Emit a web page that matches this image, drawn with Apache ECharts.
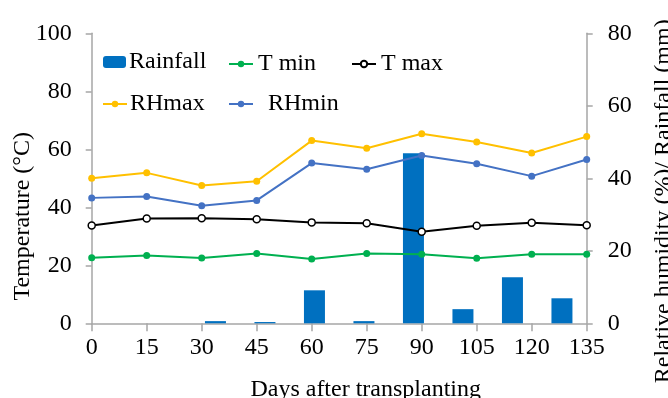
<!DOCTYPE html>
<html>
<head>
<meta charset="utf-8">
<script src="https://cdn.jsdelivr.net/npm/echarts@6/dist/echarts.min.js"></script>
<style>
  html, body { margin: 0; padding: 0; background: #fff; }
  #chart { width: 668px; height: 398px; }
</style>
</head>
<body>
<div id="chart"></div>
<script>
// Days after transplanting (line points sit on these ticks)
const days = ['0', '15', '30', '45', '60', '75', '90', '105', '120', '135'];
// Rainfall periods (bars are drawn between the day ticks)
const rainPeriods = ['P1', 'P2', 'P3', 'P4', 'P5', 'P6', 'P7', 'P8', 'P9', 'P10'];

// Temperature (°C), left axis
const tMin = [22.6, 23.4, 22.5, 24.1, 22.2, 24.1, 23.8, 22.4, 23.8, 23.8];
const tMax = [33.7, 36.1, 36.2, 35.9, 34.8, 34.5, 31.6, 33.6, 34.7, 33.8];

// Relative humidity (%) and rainfall (mm), right axis
const rhMax = [40.0, 41.5, 38.0, 39.2, 50.4, 48.3, 52.3, 50.0, 47.0, 51.5];
const rhMin = [34.6, 35.0, 32.4, 33.9, 44.2, 42.5, 46.3, 44.0, 40.6, 45.2];
const rainfall = [0, 0, 0.6, 0.35, 9.1, 0.6, 46.9, 3.9, 12.7, 6.9];

// Axis tick ranges
const leftAxisMax = 100, rightAxisMax = 80, tickStep = 20;

const FONT = 'Liberation Serif';
const FONT_SIZE = 24;
const AXIS_GRAY = '#a6a6a6';

const chart = echarts.init(document.getElementById('chart'), null, { renderer: 'canvas' });

const legendText = { fontFamily: FONT, fontSize: FONT_SIZE, color: '#000' };
function legendAt(name, left, top, extra) {
  return Object.assign({
    data: [name],
    left: left,
    top: top,
    itemWidth: 24,
    itemHeight: 8,
    itemGap: 0,
    padding: 0,
    textStyle: Object.assign({}, legendText),
    selectedMode: false
  }, extra || {});
}

const option = {
  animation: false,
  backgroundColor: '#fff',
  grid: {
    left: 91.7, right: 81.3, top: 33.3, bottom: 74.7,
    containLabel: false,
    outerBoundsMode: 'none'
  },
  legend: [
    legendAt('Rainfall', 103, 50, { itemWidth: 23, itemHeight: 12, top: 50, textStyle: Object.assign({}, legendText, { padding: [0, 0, 0, -2] }) }),
    legendAt('T min', 228, 52),
    legendAt('T max', 351, 52),
    legendAt('RHmax', 102, 92, { textStyle: Object.assign({}, legendText, { padding: [0, 0, 0, -2] }) }),
    legendAt('RHmin', 228, 92, { textStyle: Object.assign({}, legendText, { padding: [0, 0, 0, 10] }) })
  ],
  xAxis: [
    {
      type: 'category',
      data: days,
      boundaryGap: false,
      name: 'Days after transplanting',
      nameLocation: 'middle',
      nameGap: 54,
      nameMoveOverlap: false,
      nameTextStyle: { fontFamily: FONT, fontSize: FONT_SIZE, color: '#000', padding: [0, 0, 0, 53] },
      axisLine: { show: true, lineStyle: { color: AXIS_GRAY, width: 1.5 } },
      axisTick: { show: true, alignWithLabel: true, length: 8, lineStyle: { color: AXIS_GRAY, width: 1.5 } },
      axisLabel: { fontFamily: FONT, fontSize: FONT_SIZE, color: '#000', margin: 12 },
      splitLine: { show: false }
    },
    {
      type: 'category',
      data: rainPeriods,
      boundaryGap: true,
      show: false
    }
  ],
  yAxis: [
    {
      type: 'value',
      min: 0,
      max: leftAxisMax,
      interval: tickStep,
      position: 'left',
      name: 'Temperature (°C)',
      nameLocation: 'middle',
      nameRotate: 90,
      nameGap: 57,
      nameMoveOverlap: false,
      nameTextStyle: { fontFamily: FONT, fontSize: FONT_SIZE, color: '#000', padding: [0, 76, 0, 0] },
      axisLine: { show: true, lineStyle: { color: AXIS_GRAY, width: 1.5 } },
      axisTick: { show: true, length: 6, lineStyle: { color: AXIS_GRAY, width: 1.5 } },
      axisLabel: { fontFamily: FONT, fontSize: FONT_SIZE, color: '#000', margin: 20 },
      splitLine: { show: false }
    },
    {
      type: 'value',
      min: 0,
      max: rightAxisMax,
      interval: tickStep,
      position: 'right',
      name: 'Relative humidity (%)/ Rainfall (mm)',
      nameLocation: 'middle',
      nameRotate: 90,
      nameGap: 65,
      nameMoveOverlap: false,
      nameTextStyle: { fontFamily: FONT, fontSize: FONT_SIZE, color: '#000', padding: [0, 46, 0, 0] },
      axisLine: { show: true, lineStyle: { color: AXIS_GRAY, width: 1.5 } },
      axisTick: { show: true, length: 6, lineStyle: { color: AXIS_GRAY, width: 1.5 } },
      axisLabel: { fontFamily: FONT, fontSize: FONT_SIZE, color: '#000', margin: 21 },
      splitLine: { show: false }
    }
  ],
  series: [
    {
      name: 'Rainfall',
      type: 'bar',
      xAxisIndex: 1,
      yAxisIndex: 1,
      data: rainfall,
      barWidth: 21,
      itemStyle: { color: '#0070c0' },
      z: 1
    },
    {
      name: 'T min',
      type: 'line',
      xAxisIndex: 0,
      yAxisIndex: 0,
      data: tMin,
      symbol: 'circle',
      symbolSize: 7,
      lineStyle: { color: '#00b050', width: 2 },
      itemStyle: { color: '#00b050' },
      z: 3
    },
    {
      name: 'T max',
      type: 'line',
      xAxisIndex: 0,
      yAxisIndex: 0,
      data: tMax,
      symbol: 'circle',
      symbolSize: 7,
      lineStyle: { color: '#000', width: 2 },
      itemStyle: { color: '#fff', borderColor: '#000', borderWidth: 1.5 },
      z: 3
    },
    {
      name: 'RHmax',
      type: 'line',
      xAxisIndex: 0,
      yAxisIndex: 1,
      data: rhMax,
      symbol: 'circle',
      symbolSize: 7,
      lineStyle: { color: '#ffc000', width: 2 },
      itemStyle: { color: '#ffc000' },
      z: 3
    },
    {
      name: 'RHmin',
      type: 'line',
      xAxisIndex: 0,
      yAxisIndex: 1,
      data: rhMin,
      symbol: 'circle',
      symbolSize: 7,
      lineStyle: { color: '#4472c4', width: 2 },
      itemStyle: { color: '#4472c4' },
      z: 3
    }
  ]
};

chart.setOption(option);
</script>
</body>
</html>
